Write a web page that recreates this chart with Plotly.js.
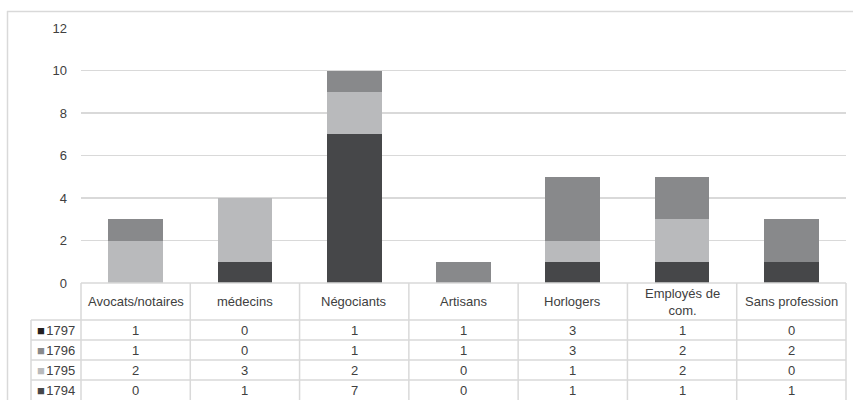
<!DOCTYPE html>
<html>
<head>
<meta charset="utf-8">
<script src="https://cdn.plot.ly/plotly-3.0.1.min.js"></script>
<style>html,body{margin:0;padding:0;background:#fff;}#chart{width:853px;height:400px;}</style>
</head>
<body>
<div id="chart"></div>
<script>
// ---- data ----
const categories = ["Avocats/notaires", "médecins", "Négociants", "Artisans", "Horlogers", "Employés de<br>com.", "Sans profession"];
const years = ["1797", "1796", "1795", "1794"];
const v1797 = [1, 0, 1, 1, 3, 1, 0];
const v1796 = [1, 0, 1, 1, 3, 2, 2];
const v1795 = [2, 3, 2, 0, 1, 2, 0];
const v1794 = [0, 1, 7, 0, 1, 1, 1];
const yTicks = [0, 2, 4, 6, 8, 10, 12];

// ---- styles ----
const colors = {"1797": "#231f20", "1796": "#88898b", "1795": "#b9babc", "1794": "#464749"};
const valuesByYear = {"1797": v1797, "1796": v1796, "1795": v1795, "1794": v1794};
const FONT = "Liberation Sans, Arial, sans-serif";
const TXT = "#404040";
const LINE = "#d9d9d9";

const W = 853, H = 400;
const mL = 81, mR = 7, mT = 28, mB = 117;
const plotW = W - mL - mR, plotH = H - mT - mB;
const px2x = p => (p - mL) / plotW;
const py2y = p => (H - mB - p) / plotH;

// bars drawn (1797 is not stacked in the chart, only in the table)
const barYears = ["1794", "1795", "1796"];
const traces = barYears.map(y => ({
  type: "bar",
  name: y,
  x: categories,
  y: valuesByYear[y],
  marker: {color: colors[y], line: {width: 0}},
  width: 0.5,
  hoverinfo: "skip"
}));

// table geometry (pixels)
const headerTop = 283, headerBottom = 320, rowH = 20;
const legendLeft = 31;
const n = categories.length;
const shapes = [];
const lineStyle = {color: LINE, width: 1.5};
// outer frame (top + left)
shapes.push({type: "line", xref: "paper", yref: "paper", x0: px2x(7), x1: px2x(853), y0: py2y(11.5), y1: py2y(11.5), line: lineStyle});
shapes.push({type: "line", xref: "paper", yref: "paper", x0: px2x(7.5), x1: px2x(7.5), y0: py2y(11), y1: py2y(400), line: lineStyle});
// header top line
shapes.push({type: "line", xref: "paper", yref: "paper", x0: 0, x1: 1, y0: py2y(headerTop), y1: py2y(headerTop), line: lineStyle});
// row lines
years.forEach((yr, r) => {
  const py = headerBottom + r * rowH;
  shapes.push({type: "line", xref: "paper", yref: "paper", x0: px2x(legendLeft), x1: 1, y0: py2y(py), y1: py2y(py), line: lineStyle});
});
// vertical column lines
for (let k = 0; k <= n; k++) {
  shapes.push({type: "line", xref: "paper", yref: "paper", x0: k / n, x1: k / n, y0: py2y(headerTop), y1: py2y(H), line: lineStyle});
}
shapes.push({type: "line", xref: "paper", yref: "paper", x0: px2x(legendLeft), x1: px2x(legendLeft), y0: py2y(headerBottom), y1: py2y(H), line: lineStyle});

const annotations = [];
// header cells
categories.forEach(c => {
  annotations.push({xref: "x", yref: "paper", x: c, y: py2y((headerTop + headerBottom) / 2), text: c, showarrow: false,
    font: {family: FONT, size: 13, color: TXT}, xanchor: "center", yanchor: "middle", align: "center"});
});
// data rows
years.forEach((yr, r) => {
  const cy = py2y(headerBottom + r * rowH + rowH / 2);
  annotations.push({xref: "paper", yref: "paper", x: px2x((legendLeft + mL) / 2), y: cy,
    text: '<span style="color:' + colors[yr] + ';font-size:13px">■</span><span style="font-size:5px"> </span>' + yr,
    showarrow: false, font: {family: FONT, size: 13, color: TXT}, xanchor: "center", yanchor: "middle"});
  valuesByYear[yr].forEach((v, i) => {
    annotations.push({xref: "x", yref: "paper", x: categories[i], y: cy, text: String(v), showarrow: false,
      font: {family: FONT, size: 13, color: TXT}, xanchor: "center", yanchor: "middle"});
  });
});

const layout = {
  width: W, height: H,
  margin: {l: mL, r: mR, t: mT, b: mB, pad: 0},
  paper_bgcolor: "#fff", plot_bgcolor: "#fff",
  barmode: "stack",
  showlegend: false,
  xaxis: {type: "category", range: [-0.5, n - 0.5], showticklabels: false, showgrid: false, zeroline: false, showline: false, ticks: "", fixedrange: true},
  yaxis: {range: [0, 12], tickvals: yTicks, ticktext: yTicks.map(String), showgrid: true, gridcolor: LINE, gridwidth: 1.5,
    zeroline: false, showline: false, ticks: "", ticklabelstandoff: 13,
    tickfont: {family: FONT, size: 13, color: TXT}, fixedrange: true},
  shapes: shapes,
  annotations: annotations
};

Plotly.newPlot("chart", traces, layout, {displayModeBar: false, staticPlot: true});
</script>
</body>
</html>
